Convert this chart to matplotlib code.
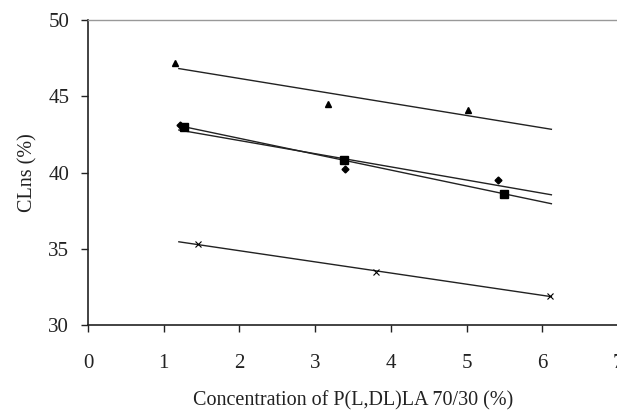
import numpy as np
import matplotlib
matplotlib.use("Agg")
import matplotlib.pyplot as plt

plt.rcParams['font.family'] = ['Liberation Serif', 'DejaVu Serif']

# data
tri_x = [1.15, 3.17, 5.02]
tri_y = [47.2, 44.5, 44.1]
sq_x = [1.27, 3.38, 5.50]
sq_y = [43.0, 40.8, 38.6]
dia_x = [1.22, 3.40, 5.42]
dia_y = [43.1, 40.2, 39.5]
cr_x = [1.45, 3.80, 6.10]
cr_y = [35.3, 33.5, 31.9]
trend_range = [1.2, 6.12]

xticks = [0, 1, 2, 3, 4, 5, 6, 7]
yticks = [30, 35, 40, 45, 50]

fig = plt.figure(figsize=(6.17, 4.13), dpi=100)
ax = fig.add_axes([88/617, 1-325/413, (618-88)/617, (325-20)/413])

series = [
    (tri_x, tri_y, '^', 5, 'k'),
    (sq_x, sq_y, 's', 6, 'k'),
    (dia_x, dia_y, 'D', 3.5, 'k'),
    (cr_x, cr_y, 'x', 4, 'k'),
]
xr = np.array(trend_range)
for x, y, m, ms, c in series:
    k, b = np.polyfit(x, y, 1)
    ax.plot(xr, k*xr + b, color='#222222', lw=1.0, zorder=2)
    if m == 'x':
        ax.plot(x, y, linestyle='none', marker=m, ms=ms, color=c, mew=0.8, zorder=3)
    else:
        ax.plot(x, y, linestyle='none', marker=m, ms=ms, color=c, zorder=3)

ax.set_xlim(0, 7)
ax.set_ylim(30, 50)
ax.set_xticks(xticks)
ax.set_yticks(yticks)
ax.tick_params(axis='both', direction='out', length=5, width=1, labelsize=15, colors='#222222')
ax.tick_params(axis='x', pad=16)
ax.tick_params(axis='y', pad=8.5)
for s in ['left', 'bottom']:
    ax.spines[s].set_color('#222222')
    ax.spines[s].set_linewidth(1.2)
ax.spines['top'].set_color('#999999')
ax.spines['top'].set_linewidth(1)
ax.spines['right'].set_visible(False)

ax.set_ylabel('CLns (%)', fontsize=14.5, color='#222222', labelpad=8)
ax.set_xlabel('Concentration of P(L,DL)LA 70/30 (%)', fontsize=14.5, color='#222222', labelpad=13)

fig.savefig('out.png', dpi=100)
